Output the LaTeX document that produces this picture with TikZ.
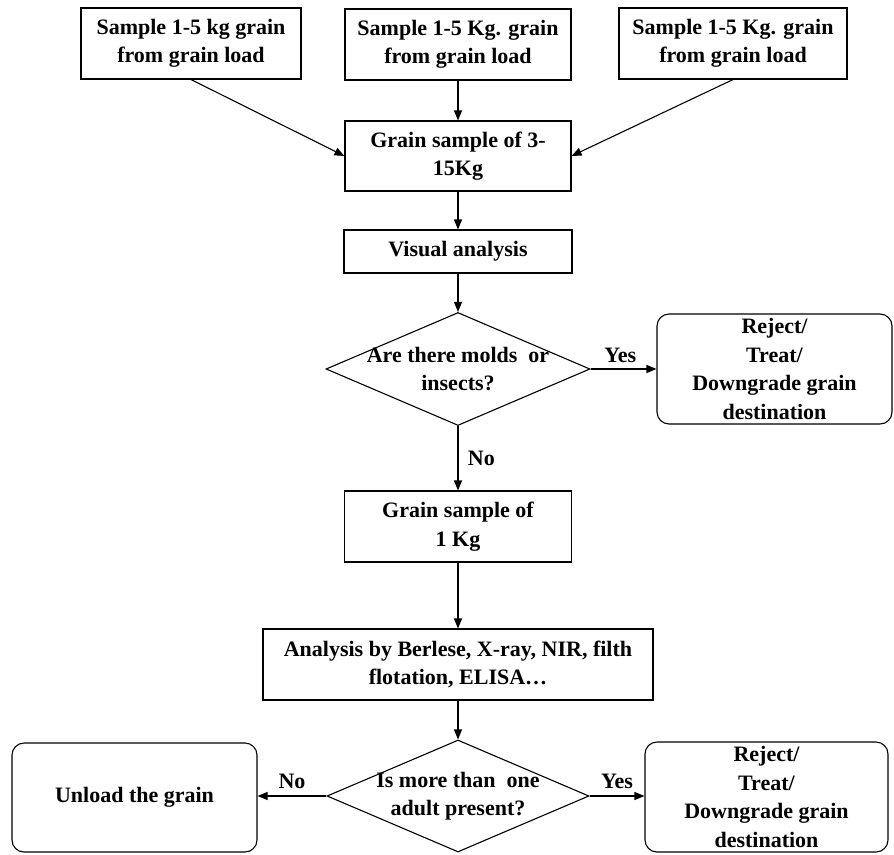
\documentclass[tikz,border=0pt]{standalone}
\usepackage{fontspec}
\setmainfont{Liberation Serif}
\usepackage{tikz}
\usetikzlibrary{shapes,arrows.meta,positioning,calc}

\begin{document}
\begin{tikzpicture}[x=1pt,y=-1pt,
    every node/.style={font=\fontsize{22}{28.5}\selectfont\bfseries, align=center},
    block/.style={draw, line width=1.1pt, rectangle, inner sep=0pt},
    endbox/.style={draw, line width=1.1pt, rectangle, rounded corners=12pt, inner sep=0pt},
    decision/.style={draw, line width=1.1pt, diamond, inner sep=0pt},
    flow/.style={-{Triangle[length=10pt,width=8pt]}, line width=1.1pt}]
    \useasboundingbox (0,0) rectangle (894,854);

    % sampling
    \node[block, minimum width=220pt, minimum height=71pt] (s1) at (191,43.5) {Sample 1-5 kg grain\\from grain load};
    \node[block, minimum width=226pt, minimum height=71pt] (s2) at (458,44.5) {Sample 1-5 Kg. grain\\from grain load};
    \node[block, minimum width=228pt, minimum height=71pt] (s3) at (733,43.5) {Sample 1-5 Kg. grain\\from grain load};
    \node[block, minimum width=226pt, minimum height=70pt] (mix) at (458,156) {Grain sample of 3-\\15Kg};
    \node[block, minimum width=228pt, minimum height=43pt] (visual) at (458,251.5) {Visual analysis};

    % first check
    \node[decision, minimum width=264pt, minimum height=113pt] (d1) at (458,369) {};
    \node at (d1) {Are there molds\ \ or\\insects?};
    \node[endbox, minimum width=235pt, minimum height=110pt] (rej1) at (774.5,369) {Reject/\\Treat/\\Downgrade grain\\destination};
    \node[block, minimum width=227pt, minimum height=71pt] (kg1) at (458,526.5) {Grain sample of\\1 Kg};
    \node[block, minimum width=390pt, minimum height=71pt] (ana) at (458,664.5) {Analysis by Berlese, X-ray, NIR, filth\\flotation, ELISA…};

    % second check
    \node[decision, minimum width=262pt, minimum height=112pt] (d2) at (458,796) {};
    \node at (d2) {Is more than\ \ one\\adult present?};
    \node[endbox, minimum width=245pt, minimum height=109pt] (unload) at (134.5,797.5) {Unload the grain};
    \node[endbox, minimum width=243pt, minimum height=110pt] (rej2) at (766.5,797) {Reject/\\Treat/\\Downgrade grain\\destination};

    \draw[flow] (s1.south) -- (mix.west);
    \draw[flow] (s2.south) -- (mix.north);
    \draw[flow] (s3.south) -- (mix.east);
    \draw[flow] (mix.south) -- (visual.north);
    \draw[flow] (visual.south) -- (d1.north);
    \draw[flow] (d1.east) -- (rej1.west) node[pos=0.45, above=2pt] {Yes};
    \draw[flow] (d1.south) -- (kg1.north) node[midway, right=6pt] {No};
    \draw[flow] (kg1.south) -- (ana.north);
    \draw[flow] (ana.south) -- (d2.north);
    \draw[flow] (d2.west) -- (d2.west -| unload.east) node[midway, above=3pt] {No};
    \draw[flow] (d2.east) -- (d2.east -| rej2.west) node[midway, above=3pt] {Yes};
\end{tikzpicture}
\end{document}
